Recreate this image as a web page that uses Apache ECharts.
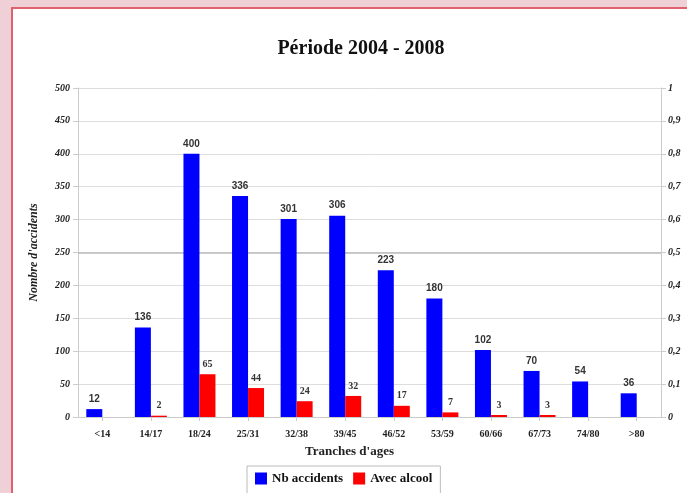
<!DOCTYPE html>
<html><head><meta charset="utf-8">
<script src="https://cdn.jsdelivr.net/npm/echarts@6/dist/echarts.min.js"></script>
<style>html,body{margin:0;padding:0;background:#efd0d6;}#c{width:687px;height:493px;}</style>
</head><body><div id="c"></div>
<script>
const categories = ['<14','14/17','18/24','25/31','32/38','39/45','46/52','53/59','60/66','67/73','74/80','>80'];
const nbAccidents = [12,136,400,336,301,306,223,180,102,70,54,36];
const avecAlcool = [null,2,65,44,24,32,17,7,3,3,null,null];
const leftTicks = {min:0,max:500,interval:50};
const rightTicks = {min:0,max:1,interval:0.1};
const midLine = 250;

const serif = '"Liberation Serif", "DejaVu Serif", serif';
const sans = '"Liberation Sans", Arial, sans-serif';
const chart = echarts.init(document.getElementById('c'), null, {renderer:'canvas'});
chart.setOption({
  backgroundColor:'#efd0d6',
  animation:false,
  graphic:[{type:'rect',z:-10,silent:true,shape:{x:12,y:8,width:700,height:520},style:{fill:'#ffffff',stroke:'#e0606e',lineWidth:2}},
    {type:'text',left:305,top:445,style:{text:"Tranches d'ages",font:'bold 13px '+serif,fill:'#222'}}],
  title:{text:'Période 2004 - 2008',left:356,textAlign:'center',top:34,textStyle:{fontFamily:serif,fontWeight:'bold',fontSize:20,color:'#111'}},
  legend:{left:247,top:466,itemWidth:12,itemHeight:12,itemGap:10,padding:[6,8,20,8],borderColor:'#bbb',borderWidth:1,backgroundColor:'#fff',
    textStyle:{fontFamily:serif,fontWeight:'bold',fontSize:13,color:'#111'},icon:'rect'},
  grid:{left:78,right:26,top:88,bottom:76},
  xAxis:{type:'category',data:categories,
    axisLine:{lineStyle:{color:'#ccc'}},axisTick:{show:true,alignWithLabel:true,length:4,lineStyle:{color:'#ccc'}},
    axisLabel:{fontFamily:serif,fontWeight:'bold',fontSize:10,color:'#222',margin:12}},
  yAxis:[{type:'value',min:leftTicks.min,max:leftTicks.max,interval:leftTicks.interval,name:"Nombre d'accidents",nameLocation:'middle',nameGap:38,
    nameTextStyle:{fontFamily:serif,fontStyle:'italic',fontWeight:'bold',fontSize:12,color:'#222'},
    axisLine:{show:true,lineStyle:{color:'#ccc'}},axisTick:{show:true,length:5,lineStyle:{color:'#ccc'}},
    axisLabel:{fontFamily:serif,fontStyle:'italic',fontWeight:'bold',fontSize:10,color:'#222',margin:8},
    splitLine:{lineStyle:{color:'#ddd'}}},
   {type:'value',min:rightTicks.min,max:rightTicks.max,interval:rightTicks.interval,position:'right',
    axisLine:{show:true,lineStyle:{color:'#ccc'}},axisTick:{show:true,length:5,lineStyle:{color:'#ccc'}},
    axisLabel:{fontFamily:serif,fontStyle:'italic',fontWeight:'bold',fontSize:10,color:'#222',margin:7,
      formatter:v=>String(Math.round(v*10)/10).replace('.',',')},
    splitLine:{show:false}}],
  series:[
    {name:'Nb accidents',type:'bar',data:nbAccidents,barWidth:16,barGap:'0%',itemStyle:{color:'#0000ff'},
      label:{show:true,position:'top',fontFamily:sans,fontWeight:'bold',fontSize:10,color:'#333',distance:5},
      markLine:{silent:true,symbol:'none',label:{show:false},lineStyle:{color:'#bbb',type:'solid',width:1.5},data:[{yAxis:midLine}],z:1}},
    {name:'Avec alcool',type:'bar',data:avecAlcool,barWidth:16,itemStyle:{color:'#ff0000'},
      label:{show:true,position:'top',fontFamily:serif,fontWeight:'bold',fontSize:10,color:'#333',distance:5}}
  ]
});
</script></body></html>
